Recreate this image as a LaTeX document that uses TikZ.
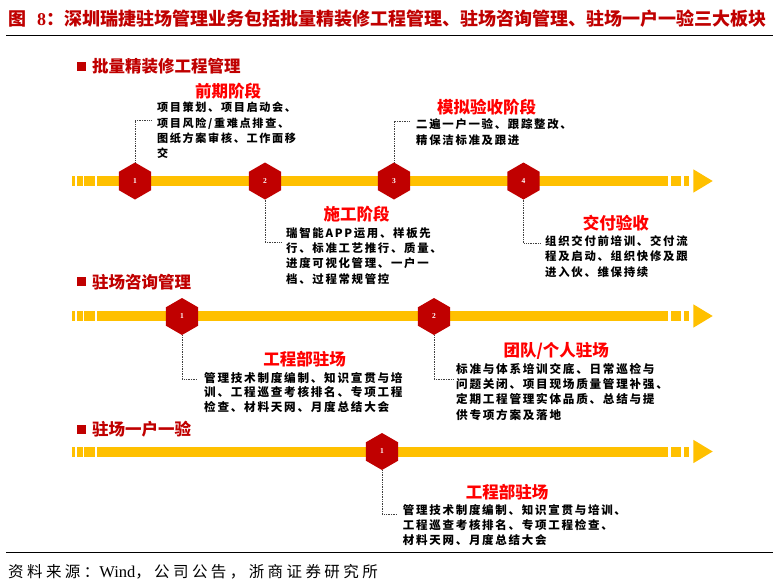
\documentclass[tikz,border=0pt]{standalone}
\usepackage{fontspec}
\setmainfont{Liberation Serif}
\newfontfamily\cjk{Noto Sans CJK SC}
\newfontfamily\cjkls{Noto Sans CJK SC}[LetterSpace=15]
\newfontfamily\cjksrc{Noto Sans CJK SC}[LetterSpace=22]
\usetikzlibrary{shapes.geometric}
\definecolor{dred}{RGB}{192,0,0}
\definecolor{bred}{RGB}{255,0,0}
\definecolor{hexred}{RGB}{192,0,0}
\definecolor{bary}{RGB}{255,192,0}
\newcommand{\tlbar}[1]{%
  \fill[bary] (72,#1-5) rectangle (75,#1+5);
  \fill[bary] (76.7,#1-5) rectangle (82.7,#1+5);
  \fill[bary] (84.3,#1-5) rectangle (95,#1+5);
  \fill[bary] (97.3,#1-5) rectangle (668,#1+5);
  \fill[bary] (671,#1-5) rectangle (681,#1+5);
  \fill[bary] (684,#1-5) rectangle (689,#1+5);
  \fill[bary] (693.3,#1-11.7) -- (712.7,#1) -- (693.3,#1+11.7) -- cycle;
}
\begin{document}
\begin{tikzpicture}[x=1pt,y=-1pt,
  hexnode/.style={regular polygon, regular polygon sides=6, shape border rotate=30,
    minimum size=37pt, inner sep=0pt, fill=hexred, draw=none, text=white,
    font=\rmfamily\bfseries\fontsize{7.5}{8}\selectfont},
  conn/.style={densely dotted, line width=0.7pt, black!75},
  body/.style={anchor=north west, inner sep=0pt, align=left, text=black,
    font=\cjkls\bfseries\fontsize{11.4}{15.3}\selectfont},
  stage/.style={inner sep=0pt, text=bred, font=\cjk\bfseries\fontsize{16.5}{18}\selectfont},
  hsq/.style={rectangle, fill=dred, minimum size=9pt, inner sep=0pt},
  htext/.style={anchor=west, inner sep=0pt, text=dred, font=\cjk\bfseries\fontsize{16.5}{18}\selectfont}
]
\useasboundingbox (0,0) rectangle (780,579);
\fill[white] (0,0) rectangle (780,579);

% title
\node[anchor=west, inner sep=0pt, text=dred, font=\cjk\bfseries\fontsize{18}{20}\selectfont] (title) at (8,18.5)
  {图\hspace{11pt}{\rmfamily\bfseries 8}：深圳瑞捷驻场管理业务包括批量精装修工程管理、驻场咨询管理、驻场一户一验三大板块};
\draw[line width=1.2pt] (6,35.7) -- (773,35.7);

% section headers
\node[hsq] (sq1) at (81.5,66.5) {};
\node[htext] (hd1) at (92,66.5) {批量精装修工程管理};
\node[hsq] (sq2) at (81.5,281.7) {};
\node[htext] (hd2) at (92,281.7) {驻场咨询管理};
\node[hsq] (sq3) at (81.5,429.3) {};
\node[htext] (hd3) at (92,429.3) {驻场一户一验};

% bars
\tlbar{181}
\tlbar{316}
\tlbar{451.5}

% hexagons
\node[hexnode] (h11) at (135,181) {1};
\node[hexnode] (h12) at (265,181) {2};
\node[hexnode] (h13) at (394,181) {3};
\node[hexnode] (h14) at (523.5,181) {4};
\node[hexnode] (h21) at (182,316.5) {1};
\node[hexnode] (h22) at (434,316.5) {2};
\node[hexnode] (h31) at (382,451.5) {1};

% callout ends
\coordinate (c11) at (152,120);
\coordinate (c13) at (410,121);
\coordinate (c12) at (282,242);
\coordinate (c14) at (540,243);
\coordinate (c21) at (197,379);
\coordinate (c22) at (453,379.3);
\coordinate (c31) at (397,514);
\draw[conn] (h11.90) |- (c11);
\draw[conn] (h13.90) |- (c13);
\draw[conn] (h12.270) |- (c12);
\draw[conn] (h14.270) |- (c14);
\draw[conn] (h21.270) |- (c21);
\draw[conn] (h22.270) |- (c22);
\draw[conn] (h31.270) |- (c31);

% stage labels
\node[stage] (l11) at (228,91) {前期阶段};
\node[stage] (l13) at (486.7,106.7) {模拟验收阶段};
\node[stage] (l12) at (356.7,214) {施工阶段};
\node[stage] (l14) at (615.8,223.3) {交付验收};
\node[stage] (l21) at (304.7,359.3) {工程部驻场};
\node[stage] (l22) at (556.3,351) {团队/个人驻场};
\node[stage] (l31) at (507,491.7) {工程部驻场};

% body texts
\node[body, font=\cjkls\bfseries\fontsize{11.1}{15.3}\selectfont] (t11) at (157,102.2) {项目策划、项目启动会、\\项目风险/重难点排查、\\图纸方案审核、工作面移\\交};
\node[body] (t13) at (416,118.8) {二遍一户一验、跟踪整改、\\精保洁标准及跟进};
\node[body] (t12) at (286,227.2) {瑞智能APP运用、样板先\\行、标准工艺推行、质量、\\进度可视化管理、一户一\\档、过程常规管控};
\node[body] (t14) at (545,235.5) {组织交付前培训、交付流\\程及启动、组织快修及跟\\进入伙、维保持续};
\node[body, font=\cjkls\bfseries\fontsize{11.6}{14.5}\selectfont] (t21) at (204,372.2) {管理技术制度编制、知识宣贯与培\\训、工程巡查考核排名、专项工程\\检查、材料天网、月度总结大会};
\node[body, font=\cjkls\bfseries\fontsize{11.6}{15.1}\selectfont] (t22) at (456,363.5) {标准与体系培训交底、日常巡检与\\问题关闭、项目现场质量管理补强、\\定期工程管理实体品质、总结与提\\供专项方案及落地};
\node[body, font=\cjkls\bfseries\fontsize{11.5}{15}\selectfont] (t31) at (402.7,504.5) {管理技术制度编制、知识宣贯与培训、\\工程巡查考核排名、专项工程检查、\\材料天网、月度总结大会};

% source
\draw[line width=1pt] (6,552.3) -- (773,552.3);
\node[anchor=west, inner sep=0pt, text=black] (src) at (8,571.7)
  {{\cjksrc\fontsize{15.5}{17}\selectfont 资料来源：}{\rmfamily\fontsize{16.5}{18}\selectfont Wind}{\cjksrc\fontsize{15.5}{17}\selectfont ，公司公告，浙商证券研究所}};
\end{tikzpicture}
\end{document}
